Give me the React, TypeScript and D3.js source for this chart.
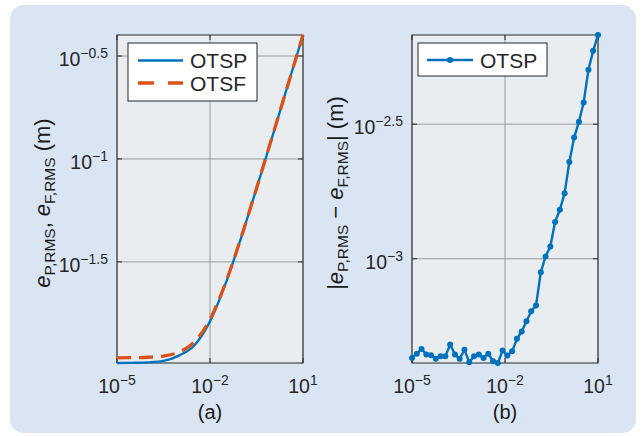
import React from "react";
import * as d3 from "d3";

const W = 644;
const H = 436;

// panel (a): RMS error vs. x
const xA = [1e-5, 3.16e-5, 1e-4, 3.16e-4, 1e-3, 3.16e-3, 1e-2, 3.16e-2, 0.1, 0.316, 1, 3.16, 10];
const otspA = [0.01021, 0.01023, 0.01028, 0.01045, 0.01109, 0.01245, 0.01626, 0.02472, 0.0413, 0.07178, 0.1268, 0.2254, 0.4];
const otsfA = [0.01081, 0.01084, 0.01089, 0.01104, 0.01153, 0.01294, 0.01663, 0.02495, 0.0414, 0.07194, 0.1271, 0.2254, 0.4];

// panel (b): |eP - eF|
const xB = [
  1e-5, 1.43e-5, 2.03e-5, 2.9e-5, 4.12e-5, 5.87e-5, 8.38e-5, 1.19e-4, 1.7e-4, 2.43e-4, 3.45e-4, 4.92e-4, 7.01e-4,
  1e-3, 1.43e-3, 2.03e-3, 2.9e-3, 4.12e-3, 5.87e-3, 8.38e-3, 1.19e-2, 1.7e-2, 2.43e-2, 3.45e-2, 4.92e-2, 7.01e-2,
  0.1, 0.143, 0.203, 0.29, 0.412, 0.587, 0.838, 1.19, 1.7, 2.43, 3.45, 4.92, 7.01, 10,
];
const diffB = [
  4.28e-4, 4.44e-4, 4.62e-4, 4.41e-4, 4.38e-4, 4.25e-4, 4.34e-4, 4.34e-4, 4.8e-4, 4.41e-4, 4.25e-4, 4.59e-4, 4.13e-4,
  4.34e-4, 4.41e-4, 4.28e-4, 4.44e-4, 4.16e-4, 4.1e-4, 4.56e-4, 4.37e-4, 4.53e-4, 5.04e-4, 5.37e-4, 5.86e-4, 6.38e-4,
  6.7e-4, 8.91e-4, 1.02e-3, 1.11e-3, 1.37e-3, 1.52e-3, 1.75e-3, 2.29e-3, 2.82e-3, 3.23e-3, 3.81e-3, 5.04e-3, 5.93e-3, 6.78e-3,
];

const xTicks = [1e-5, 1e-2, 10];
const xTickExp = ["−5", "−2", "1"];
const yTicksA = [0.31623, 0.1, 0.031623];
const yTickExpA = ["−0.5", "−1", "−1.5"];
const yTicksB = [0.0031623, 0.001];
const yTickExpB = ["−2.5", "−3"];

const BLUE = "#0072bd";
const ORANGE = "#d95319";
const FONT = "'Liberation Sans', Arial, Helvetica, sans-serif";

const top = 35;
const bottom = 363;

function Pow10({ x, y, exp, anchor }) {
  return (
    <text x={x} y={y} textAnchor={anchor} fontSize={19.5} fill="#262626">
      10
      <tspan fontSize={14} dy={-8}>
        {exp}
      </tspan>
    </text>
  );
}

function Frame({ x, y, yTicks, yExp }) {
  const [x0, x1] = x.range();
  return (
    <g>
      <rect x={x0} y={top} width={x1 - x0} height={bottom - top} fill="#e9edf0" />
      {xTicks.map((t) => (
        <line key={"gx" + t} x1={x(t)} x2={x(t)} y1={top} y2={bottom} stroke="#9a9a9a" strokeWidth={1} />
      ))}
      {yTicks.map((t) => (
        <line key={"gy" + t} x1={x0} x2={x1} y1={y(t)} y2={y(t)} stroke="#9a9a9a" strokeWidth={1} />
      ))}
      {xTicks.map((t) => (
        <g key={"tx" + t} stroke="#262626">
          <line x1={x(t)} x2={x(t)} y1={bottom} y2={bottom - 5} />
          <line x1={x(t)} x2={x(t)} y1={top} y2={top + 5} />
        </g>
      ))}
      {yTicks.map((t) => (
        <g key={"ty" + t} stroke="#262626">
          <line x1={x0} x2={x0 + 5} y1={y(t)} y2={y(t)} />
          <line x1={x1} x2={x1 - 5} y1={y(t)} y2={y(t)} />
        </g>
      ))}
      <rect x={x0} y={top} width={x1 - x0} height={bottom - top} fill="none" stroke="#262626" strokeWidth={1} />
      {xTicks.map((t, i) => (
        <Pow10 key={"lx" + t} x={x(t)} y={bottom + 30} exp={xTickExp[i]} anchor="middle" />
      ))}
      {yTicks.map((t, i) => (
        <Pow10 key={"ly" + t} x={x0 - 9} y={y(t) + 10} exp={yExp[i]} anchor="end" />
      ))}
    </g>
  );
}

export default function App() {
  // panel (a)
  const xa = d3.scaleLog().domain([1e-5, 10]).range([117, 303]);
  const ya = d3.scaleLog().domain(d3.extent([...otspA, ...otsfA])).range([bottom, top]);
  const lineA = d3
    .line()
    .x((d) => xa(d[0]))
    .y((d) => ya(d[1]))
    .curve(d3.curveMonotoneX);
  const otsp = xA.map((v, i) => [v, otspA[i]]);
  const otsf = xA.map((v, i) => [v, otsfA[i]]);

  // panel (b)
  const xb = d3.scaleLog().domain([1e-5, 10]).range([412, 598]);
  const yb = d3.scaleLog().domain(d3.extent(diffB)).range([bottom, top]);
  const ptsB = xB.map((v, i) => [v, diffB[i]]);
  const lineB = d3
    .line()
    .x((d) => xb(d[0]))
    .y((d) => yb(d[1]));

  return (
    <svg
      width={W}
      height={H}
      style={{ position: "absolute", left: 0, top: 0, background: "#fff" }}
      fontFamily={FONT}
    >
      <rect x={10} y={5} width={626} height={428} rx={14} fill="#dae5f3" />

      {/* (a) */}
      <Frame x={xa} y={ya} yTicks={yTicksA} yExp={yTickExpA} />
      <path d={lineA(otsp)} fill="none" stroke={BLUE} strokeWidth={2.3} />
      <path d={lineA(otsf)} fill="none" stroke={ORANGE} strokeWidth={3.3} strokeDasharray="14 8" />
      <g>
        <rect x={128} y={43} width={129} height={58} fill="#fff" stroke="#262626" />
        <line x1={138} x2={183} y1={60.5} y2={60.5} stroke={BLUE} strokeWidth={2.3} />
        <text x={190} y={68} fontSize={21} fill="#262626">OTSP</text>
        <line x1={138} x2={183} y1={83} y2={83} stroke={ORANGE} strokeWidth={3.3} strokeDasharray="16 14" />
        <text x={190} y={91} fontSize={21} fill="#262626">OTSF</text>
      </g>
      <text transform="translate(50,203) rotate(-90)" textAnchor="middle" fontSize={22} fill="#1a1a1a">
        <tspan fontStyle="italic">e</tspan>
        <tspan fontSize={15.5} dy={5}>P,RMS</tspan>
        <tspan dy={-5}>, </tspan>
        <tspan fontStyle="italic">e</tspan>
        <tspan fontSize={15.5} dy={5}>F,RMS</tspan>
        <tspan dy={-5}> (m)</tspan>
      </text>
      <text x={210} y={419} textAnchor="middle" fontSize={20} fill="#1a1a1a">(a)</text>

      {/* (b) */}
      <Frame x={xb} y={yb} yTicks={yTicksB} yExp={yTickExpB} />
      <path d={lineB(ptsB)} fill="none" stroke={BLUE} strokeWidth={2.4} />
      {ptsB.map((d, i) => (
        <circle key={i} cx={xb(d[0])} cy={yb(d[1])} r={3} fill={BLUE} />
      ))}
      <g>
        <rect x={418} y={43} width={129} height={33} fill="#fff" stroke="#262626" />
        <line x1={427} x2={473} y1={60} y2={60} stroke={BLUE} strokeWidth={2.4} />
        <circle cx={450} cy={60} r={3} fill={BLUE} />
        <text x={480} y={67.5} fontSize={21} fill="#262626">OTSP</text>
      </g>
      <text transform="translate(343,193) rotate(-90)" textAnchor="middle" fontSize={22} fill="#1a1a1a">
        <tspan>|</tspan>
        <tspan fontStyle="italic">e</tspan>
        <tspan fontSize={15.5} dy={5}>P,RMS</tspan>
        <tspan dy={-5}> − </tspan>
        <tspan fontStyle="italic">e</tspan>
        <tspan fontSize={15.5} dy={5}>F,RMS</tspan>
        <tspan dy={-5}>| (m)</tspan>
      </text>
      <text x={505} y={419} textAnchor="middle" fontSize={20} fill="#1a1a1a">(b)</text>
    </svg>
  );
}
